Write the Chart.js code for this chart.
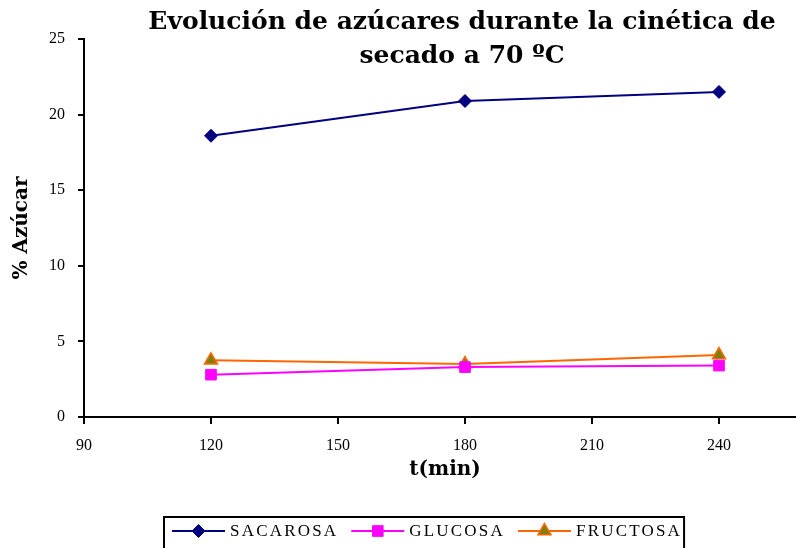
<!DOCTYPE html>
<html>
<head>
<meta charset="utf-8">
<title>Evolución de azúcares</title>
<script src="https://cdn.jsdelivr.net/npm/chart.js@4/dist/chart.umd.min.js"></script>
<style>
  html, body { margin: 0; padding: 0; background: #fff; overflow: hidden; }
  #wrap { width: 858px; height: 548px; }
</style>
</head>
<body>
<div id="wrap"><canvas id="grafico" width="858" height="548"></canvas></div>
<script>
'use strict';

// tiempos de secado (min) y % de azúcar medido
const tiempos = [120, 180, 240];
const sacarosa = [18.6, 20.9, 21.5];
const glucosa = [2.8, 3.3, 3.4];
const fructosa = [3.75, 3.5, 4.1];

const nombres = ['SACAROSA', 'GLUCOSA', 'FRUCTOSA'];
const titulo = ['Evolución de azúcares durante la cinética de', 'secado a 70 ºC'];
const tituloX = 't(min)';
const tituloY = '% Azúcar';

// ejes
const xMin = 90, xMax = 270, xPaso = 30;
const yMin = 0, yMax = 25, yPaso = 5;

// centro horizontal de la leyenda
const centroLeyenda = 424.5;

function puntos(valores) {
  return tiempos.map((t, i) => ({ x: t, y: valores[i] }));
}

// titulo en dos lineas y titulo del eje x
const textosPlugin = {
  id: 'textos',
  afterDraw(chart) {
    const ctx = chart.ctx;
    const area = chart.chartArea;
    const cx = (area.left + area.right) / 2 - 3;
    ctx.save();
    ctx.fillStyle = '#000';
    ctx.textAlign = 'center';
    ctx.textBaseline = 'alphabetic';
    ctx.font = 'bold 25px "DejaVu Serif"';
    for (let i = 0; i < titulo.length; i++) {
      ctx.fillText(titulo[i], cx, 29 + i * 34);
    }
    ctx.font = 'bold 20px "DejaVu Serif"';
    ctx.fillText(tituloX, area.left + 361, area.bottom + 58);
    ctx.restore();
  }
};

// leyenda con linea + marcador, dentro de un recuadro
const leyendaPlugin = {
  id: 'leyendaCaja',
  afterDraw(chart) {
    const ctx = chart.ctx;
    const sets = chart.data.datasets;
    const anchoMuestra = 53, sepTexto = 5, sepItems = 13, margenIzq = 8, margenDer = 2;
    ctx.save();
    ctx.font = '17px "Liberation Serif"';
    ctx.letterSpacing = '2.2px';
    const anchos = sets.map(ds => ctx.measureText(ds.label).width);
    let total = margenIzq + margenDer + sepItems * (sets.length - 1);
    anchos.forEach(w => { total += anchoMuestra + sepTexto + w; });
    const izq = Math.round(centroLeyenda - total / 2);
    const top = 517;
    const cy = 531;

    ctx.strokeStyle = '#000';
    ctx.lineWidth = 2;
    ctx.strokeRect(izq, top, total, chart.height - top + 10);

    let x = izq + margenIzq;
    sets.forEach((ds, i) => {
      ctx.strokeStyle = ds.borderColor;
      ctx.lineWidth = ds.borderWidth;
      ctx.beginPath();
      ctx.moveTo(x, cy);
      ctx.lineTo(x + anchoMuestra, cy);
      ctx.stroke();
      ctx.fillStyle = ds.pointBackgroundColor;
      ctx.strokeStyle = ds.pointBorderColor;
      ctx.lineWidth = ds.pointBorderWidth;
      Chart.helpers.drawPoint(ctx, {
        pointStyle: ds.pointStyle,
        radius: ds.pointRadius,
        borderWidth: ds.pointBorderWidth,
        rotation: 0
      }, x + anchoMuestra / 2, cy);
      ctx.fillStyle = '#000';
      ctx.textAlign = 'left';
      ctx.textBaseline = 'middle';
      ctx.fillText(ds.label, x + anchoMuestra + sepTexto, cy + 1);
      x += anchoMuestra + sepTexto + anchos[i] + sepItems;
    });
    ctx.restore();
  }
};

const ctx = document.getElementById('grafico').getContext('2d');

new Chart(ctx, {
  type: 'line',
  data: {
    datasets: [
      {
        label: nombres[0],
        data: puntos(sacarosa),
        borderColor: '#000080',
        borderWidth: 2,
        pointStyle: 'rectRot',
        pointRadius: 6.5,
        pointBackgroundColor: '#000080',
        pointBorderColor: '#000080',
        pointBorderWidth: 1
      },
      {
        label: nombres[1],
        data: puntos(glucosa),
        borderColor: '#ff00ff',
        borderWidth: 2,
        pointStyle: 'rect',
        pointRadius: 7.5,
        pointBackgroundColor: '#ff00ff',
        pointBorderColor: '#ff00ff',
        pointBorderWidth: 1
      },
      {
        label: nombres[2],
        data: puntos(fructosa),
        borderColor: '#ff6600',
        borderWidth: 2,
        pointStyle: 'triangle',
        pointRadius: 7.5,
        pointBackgroundColor: '#808000',
        pointBorderColor: '#ff6600',
        pointBorderWidth: 1.5
      }
    ]
  },
  options: {
    responsive: false,
    animation: false,
    layout: { padding: { top: 39, right: 0, bottom: 35, left: 0 } },
    plugins: {
      legend: { display: false },
      title: { display: false },
      tooltip: { enabled: false }
    },
    scales: {
      x: {
        type: 'linear',
        min: xMin,
        max: xMax,
        border: { color: '#000', width: 2 },
        grid: { drawOnChartArea: false, color: '#000', lineWidth: 2, tickLength: 7 },
        ticks: {
          stepSize: xPaso,
          color: '#000',
          padding: 12,
          font: { family: '"Liberation Serif"', size: 16 },
          callback: v => (v === xMax ? '' : v)
        },
        afterFit(scale) { scale.height = 96; }
      },
      y: {
        min: yMin,
        max: yMax,
        border: { color: '#000', width: 2 },
        grid: { drawOnChartArea: false, color: '#000', lineWidth: 2, tickLength: 6 },
        ticks: {
          stepSize: yPaso,
          color: '#000',
          padding: 13,
          font: { family: '"Liberation Serif"', size: 16 }
        },
        title: {
          display: true,
          text: tituloY,
          color: '#000',
          font: { family: '"DejaVu Serif"', size: 20, weight: 'bold' },
          padding: { top: 10, bottom: 4 }
        },
        afterFit(scale) { scale.width = 84; }
      }
    }
  },
  plugins: [textosPlugin, leyendaPlugin]
});
</script>
</body>
</html>
